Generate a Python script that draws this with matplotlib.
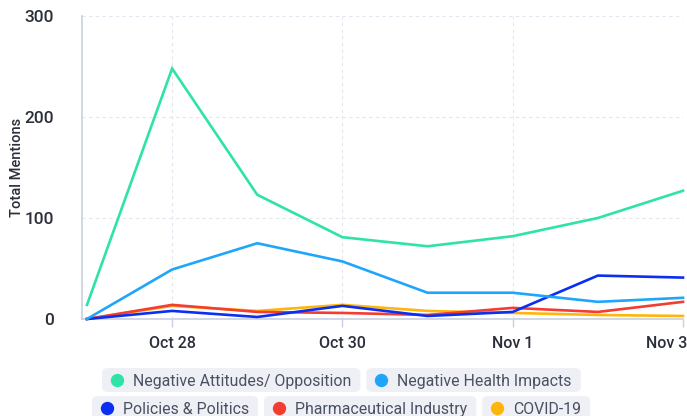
import matplotlib
matplotlib.use("Agg")
import matplotlib.pyplot as plt
import matplotlib.transforms as mtrans
from matplotlib.patches import FancyBboxPatch
from matplotlib.lines import Line2D
from datetime import datetime, timedelta

dates = ["2021-10-27", "2021-10-28", "2021-10-29", "2021-10-30",
         "2021-10-31", "2021-11-01", "2021-11-02", "2021-11-03"]
negative_attitudes = [14, 248, 123, 81, 72, 82, 100, 127]
negative_health = [0, 49, 75, 57, 26, 26, 17, 21]
policies = [0, 8, 2, 13, 3, 7, 43, 41]
pharma = [0, 14, 7, 6, 4, 11, 7, 17]
covid = [0, 13, 8, 14, 8, 6, 4, 3]

series_names = ["Negative Attitudes/ Opposition", "Negative Health Impacts",
                "Policies & Politics", "Pharmaceutical Industry", "COVID-19"]
series_values = [negative_attitudes, negative_health, policies, pharma, covid]
colors = ["#2fe3a6", "#1fa6fb", "#0b2ff2", "#f43d31", "#ffb60c"]
tick_dates = ["2021-10-28", "2021-10-30", "2021-11-01", "2021-11-03"]
tick_labels = ["Oct 28", "Oct 30", "Nov 1", "Nov 3"]
y_ticks = [0, 100, 200, 300]

plt.rcParams['font.family'] = ['Roboto', 'DejaVu Sans']

x = [datetime.strptime(d, "%Y-%m-%d") for d in dates]
xt = [datetime.strptime(d, "%Y-%m-%d") for d in tick_dates]

W, H = 687, 416
fig = plt.figure(figsize=(W / 100, H / 100), dpi=100)
ax = fig.add_axes([82/W, 1-319/H, (683-82)/W, (319-16)/H])

for name, vals, c in list(zip(series_names, series_values, colors))[::-1]:
    ax.plot(x, vals, color=c, lw=1.9, solid_joinstyle='miter', clip_on=False, zorder=3)

ax.set_ylim(0, 300)
ax.set_xlim(x[0] - timedelta(hours=1.4), x[-1])
ax.set_yticks(y_ticks)
ax.set_xticks(xt)
ax.set_xticklabels(tick_labels)
ax.tick_params(axis='y', length=0, pad=20, labelsize=12.5, labelcolor='#2a2f3b')
ax.tick_params(axis='x', length=6, width=1, color='#c9cfe2', pad=6,
               labelsize=11.5, labelcolor='#2a2f3b')
for lab in ax.get_xticklabels() + ax.get_yticklabels():
    lab.set_fontweight('medium')
last = ax.get_xticklabels()[-1]
last.set_horizontalalignment('right')
last.set_transform(last.get_transform() + mtrans.ScaledTranslation(0.04, 0, fig.dpi_scale_trans))

ax.grid(True, color='#e3e6f0', linestyle=(0, (3, 3)), lw=0.8, zorder=0)
for s in ['top', 'right']:
    ax.spines[s].set_visible(False)
for s in ['left', 'bottom']:
    ax.spines[s].set_color('#c9cfe2')
    ax.spines[s].set_linewidth(1.2)
ax.set_ylabel("Total Mentions", fontsize=10.5, color='#2a2f3b', fontweight='medium')
ax.yaxis.set_label_coords(-0.097, 0.5)

# legend pills
fig.canvas.draw()
renderer = fig.canvas.get_renderer()
rows = [[0, 1], [2, 3, 4]]
row_y = [380, 408]
row_x0 = [102, 92]
gap = 6
ph = 24
for r, idxs in enumerate(rows):
    xp = row_x0[r]
    yc = row_y[r]
    for i in idxs:
        t = fig.text(0, 0, series_names[i], fontsize=11.4, color='#4a5162',
                     va='center_baseline', ha='left')
        tw = t.get_window_extent(renderer).width
        pw = 31 + tw + 9
        patch = FancyBboxPatch((xp / W, 1 - (yc + ph / 2) / H), pw / W, ph / H,
                               boxstyle="round,pad=0,rounding_size=0.01",
                               transform=fig.transFigure, facecolor='#eef0f5',
                               edgecolor='none', zorder=1)
        fig.add_artist(patch)
        fig.add_artist(Line2D([(xp + 15) / W], [1 - yc / H], marker='o',
                              markersize=9.6, markeredgewidth=0, color=colors[i],
                              transform=fig.transFigure, zorder=2))
        t.set_position(((xp + 31) / W, 1 - yc / H))
        t.set_zorder(3)
        xp += pw + gap

fig.savefig("out.png", dpi=100)
